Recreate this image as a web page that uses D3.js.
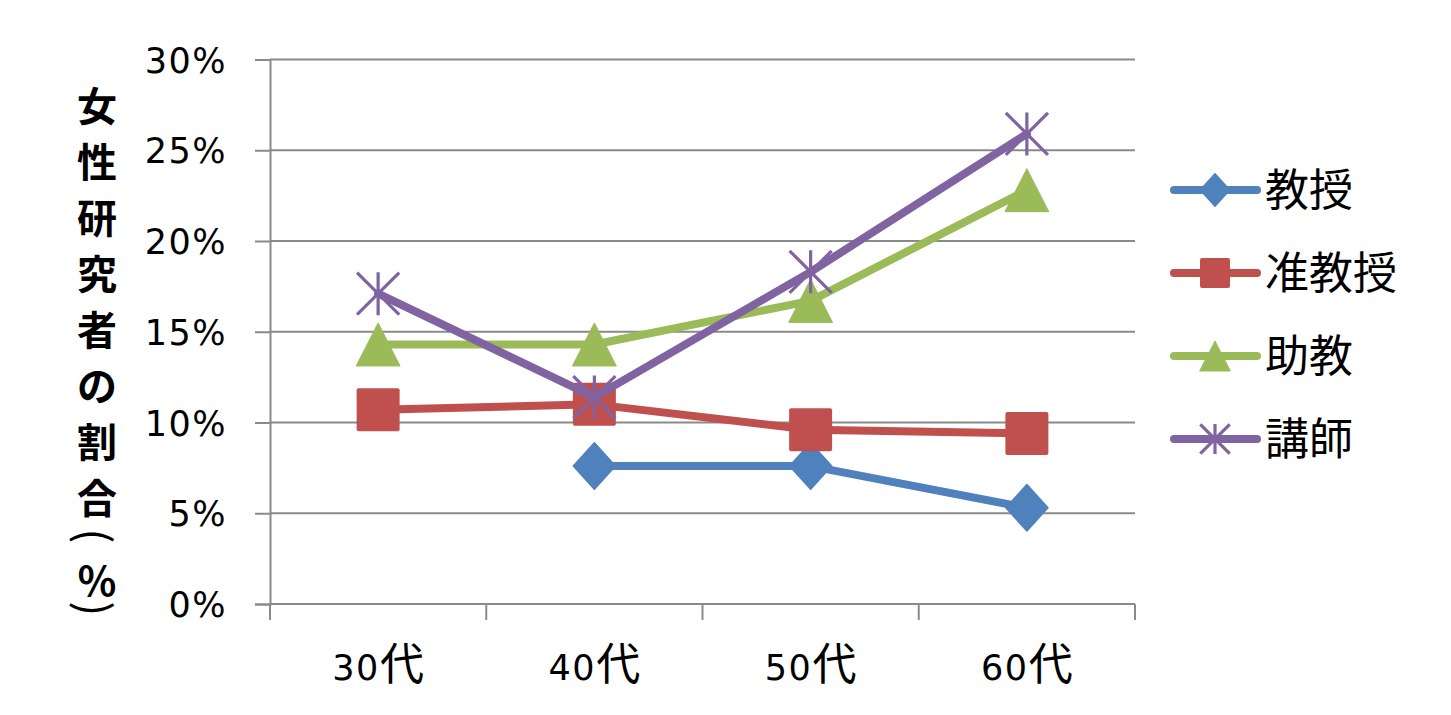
<!DOCTYPE html>
<html>
<head>
<meta charset="utf-8">
<script src="https://cdn.jsdelivr.net/npm/d3@7"></script>
<style>
  html, body { margin: 0; padding: 0; background: #fff; }
  svg { display: block; }
</style>
</head>
<body>
<svg id="chart" width="1451" height="715"></svg>
<script>
// Age groups on the x axis
const categories = ["30代", "40代", "50代", "60代"];
// Share of women researchers (%), one array per position
const seriesNames = ["教授", "准教授", "助教", "講師"];
const professorValues = [null, 7.6, 7.6, 5.3];
const associateValues = [10.7, 11.0, 9.6, 9.4];
const assistantValues = [14.3, 14.3, 16.7, 22.8];
const lecturerValues = [17.1, 11.4, 18.3, 25.9];
const yTickValues = [0, 5, 10, 15, 20, 25, 30];
const yTitle = "女性研究者の割合（％）";

const colors = ["#4F81BD", "#C0504D", "#9BBB59", "#8064A2"];
const markers = ["diamond", "square", "triangle", "star"];
const seriesValues = [professorValues, associateValues, assistantValues, lecturerValues];

const LATIN = "'DejaVu Sans', sans-serif";
const CJK = "'Noto Sans CJK JP', 'Noto Sans CJK SC', sans-serif";

const svg = d3.select("#chart");
const plot = { left: 270, right: 1135, top: 59.5, bottom: 604 };

const x = d3.scaleBand().domain(categories).range([plot.left, plot.right]);
const y = d3.scaleLinear().domain([0, 30]).range([plot.bottom, plot.top]);
const cx = c => x(c) + x.bandwidth() / 2;

// Writes a string as tspans so digits use a Latin face and kana/kanji a CJK face
function mixedText(sel, str, latinSize, cjkSize) {
  const runs = str.match(/[\x00-\x7F]+|[^\x00-\x7F]+/g) || [];
  runs.forEach(r => {
    const ascii = /^[\x00-\x7F]+$/.test(r);
    sel.append("tspan")
      .attr("font-family", ascii ? LATIN : CJK)
      .attr("font-size", ascii ? latinSize : cjkSize)
      .attr("letter-spacing", ascii ? 1.5 : 0)
      .text(r);
  });
}

// Horizontal gridlines
svg.append("g")
  .selectAll("line")
  .data(yTickValues)
  .join("line")
  .attr("x1", plot.left).attr("x2", plot.right)
  .attr("y1", d => y(d)).attr("y2", d => y(d))
  .attr("stroke", "#8a8a8a").attr("stroke-width", 2);

// Y axis
const yAxis = svg.append("g")
  .attr("transform", `translate(${plot.left},0)`)
  .call(d3.axisLeft(y).tickValues(yTickValues).tickSize(15).tickPadding(28).tickFormat(d => d + "%"));
yAxis.select(".domain").attr("stroke", "#8a8a8a").attr("stroke-width", 2);
yAxis.selectAll(".tick line").attr("stroke", "#8a8a8a").attr("stroke-width", 2);
yAxis.selectAll(".tick text")
  .attr("font-family", LATIN).attr("font-size", 35).attr("letter-spacing", 1.5)
  .attr("fill", "#000").attr("dy", "0.36em");

// X axis: ticks sit on category boundaries
const boundaries = categories.map(c => x(c)).concat([plot.right]);
const xAxis = svg.append("g");
xAxis.append("line")
  .attr("x1", plot.left).attr("x2", plot.right)
  .attr("y1", plot.bottom).attr("y2", plot.bottom)
  .attr("stroke", "#8a8a8a").attr("stroke-width", 2);
xAxis.selectAll("line.tick")
  .data(boundaries)
  .join("line")
  .attr("class", "tick")
  .attr("x1", d => d).attr("x2", d => d)
  .attr("y1", plot.bottom).attr("y2", plot.bottom + 16)
  .attr("stroke", "#8a8a8a").attr("stroke-width", 2);
xAxis.selectAll("text")
  .data(categories)
  .join("text")
  .attr("x", d => cx(d))
  .attr("y", plot.bottom + 76)
  .attr("text-anchor", "middle")
  .attr("fill", "#000")
  .each(function (d) { mixedText(d3.select(this), d, 35, 44); });

// Marker shapes, centred on (0,0)
function drawMarker(g, type, color, size) {
  const h = size / 2;
  if (type === "diamond") {
    g.append("path")
      .attr("d", `M0,${-h * 1.08}L${h * 0.98},0L0,${h * 1.08}L${-h * 0.98},0Z`)
      .attr("fill", color).attr("stroke", color).attr("stroke-width", 1.5).attr("stroke-linejoin", "round");
  } else if (type === "square") {
    g.append("rect")
      .attr("x", -h).attr("y", -h).attr("width", size).attr("height", size).attr("rx", 2)
      .attr("fill", color);
  } else if (type === "triangle") {
    g.append("path")
      .attr("d", `M0,${-h}L${h * 1.02},${h}L${-h * 1.02},${h}Z`)
      .attr("fill", color).attr("stroke", color).attr("stroke-width", 1).attr("stroke-linejoin", "round");
  } else if (type === "star") {
    const d = h * 0.98;
    const p = `M${-d},${-d}L${d},${d}M${d},${-d}L${-d},${d}M0,${-h}L0,${h}`;
    g.append("path")
      .attr("d", p).attr("fill", "none").attr("stroke", color).attr("stroke-width", 3.2);
  }
}

// Series: line first, then markers, one series above the previous
const line = d3.line()
  .defined(d => d.v != null)
  .x(d => cx(d.c))
  .y(d => y(d.v));

seriesNames.forEach((name, i) => {
  const pts = categories.map((c, j) => ({ c, v: seriesValues[i][j] }));
  const g = svg.append("g").attr("class", "series");
  g.append("path")
    .datum(pts)
    .attr("d", line)
    .attr("fill", "none")
    .attr("stroke", colors[i])
    .attr("stroke-width", 8)
    .attr("stroke-linecap", "round")
    .attr("stroke-linejoin", "round");
  pts.filter(d => d.v != null).forEach(d => {
    const m = g.append("g").attr("transform", `translate(${cx(d.c)},${y(d.v)})`);
    drawMarker(m, markers[i], colors[i], 43);
  });
});

// Legend
const legend = svg.append("g").attr("transform", "translate(1174,190)");
seriesNames.forEach((name, i) => {
  const row = legend.append("g").attr("transform", `translate(0,${i * 83})`);
  row.append("line")
    .attr("x1", 0).attr("x2", 83).attr("y1", 0).attr("y2", 0)
    .attr("stroke", colors[i]).attr("stroke-width", 8).attr("stroke-linecap", "round");
  const m = row.append("g").attr("transform", "translate(41,0)");
  drawMarker(m, markers[i], colors[i], 30);
  row.append("text")
    .attr("x", 91).attr("y", 0).attr("dy", "0.36em")
    .attr("font-family", CJK).attr("font-size", 44).attr("fill", "#000")
    .text(name);
});

// Vertical axis title, stacked one glyph per line. Brackets are drawn as
// half-width parentheses turned a quarter turn so they read as vertical brackets.
const turned = { "（": "(", "）": ")" };
const title = svg.append("g").attr("class", "y-title");
const titleX = 97;
let ty = 104;
Array.from(yTitle).forEach((ch, k, arr) => {
  if (k > 0) {
    const prev = arr[k - 1];
    if (ch === "（") ty += 40;
    else if (prev === "（") ty += 43;
    else if (ch === "）") ty += 30;
    else ty += 56;
  }
  const t = title.append("text")
    .attr("text-anchor", "middle")
    .attr("dominant-baseline", "central")
    .attr("font-family", CJK)
    .attr("fill", "#000");
  if (turned[ch]) {
    t.attr("transform", `translate(${titleX},${ty}) rotate(90)`)
      .attr("font-size", 44).attr("font-weight", 400)
      .text(turned[ch]);
  } else {
    t.attr("x", titleX).attr("y", ty)
      .attr("font-size", 40).attr("font-weight", 700)
      .text(ch);
  }
});
</script>
</body>
</html>
